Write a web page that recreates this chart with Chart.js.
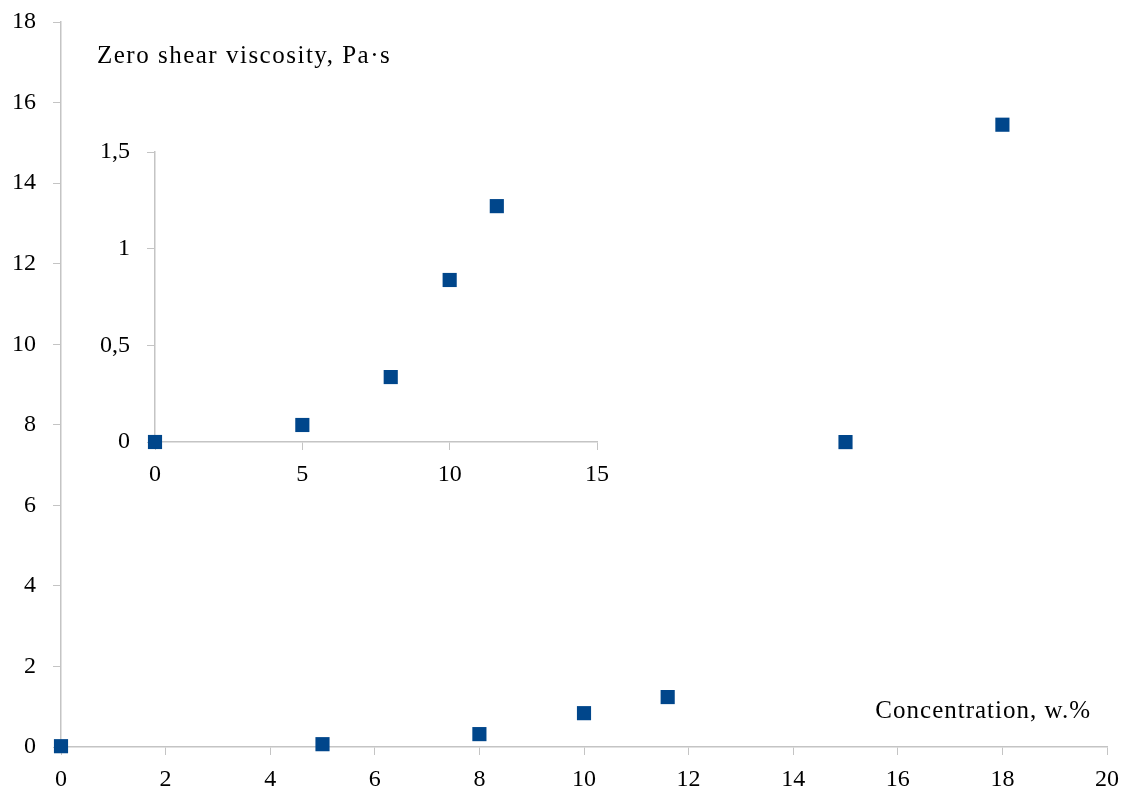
<!DOCTYPE html>
<html lang="en">
<head>
    <meta charset="UTF-8">
    <title>Zero shear viscosity vs concentration</title>
    <script src="https://cdn.jsdelivr.net/npm/chart.js"></script>
    <style>
        body { margin: 0; background: #fff; }
        #wrap { position: relative; width: 1126px; height: 794px; }
        #mainChart { position: absolute; left: 0; top: 0; }
        #insetChart { position: absolute; left: 80px; top: 130px; }
    </style>
</head>
<body>
    <div id="wrap">
        <canvas id="mainChart" width="1126" height="794"></canvas>
        <canvas id="insetChart" width="540" height="360"></canvas>
    </div>

    <script>
        // main plot data
        const concentration = [0, 5, 8, 10, 11.6, 15, 18];
        const viscosity = [0.02, 0.07, 0.32, 0.84, 1.24, 7.57, 15.45];

        // inset (zoom of the low range)
        const insetConcentration = [0, 5, 8, 10, 11.6];
        const insetViscosity = [0, 0.088, 0.336, 0.838, 1.22];

        const mainXTicks = [0, 2, 4, 6, 8, 10, 12, 14, 16, 18, 20];
        const mainYTicks = [0, 2, 4, 6, 8, 10, 12, 14, 16, 18];
        const insetXTicks = [0, 5, 10, 15];
        const insetYTicks = [0, 0.5, 1, 1.5];

        const yLabel = "Zero shear viscosity, Pa·s";
        const xLabel = "Concentration, w.%";

        const axisColor = "#c4c4c4";
        const markColor = "#00468b";
        const fontFamily = "'Liberation Serif', 'Times New Roman', serif";

        Chart.defaults.font.family = fontFamily;
        Chart.defaults.font.size = 24;
        Chart.defaults.color = "#000";
        Chart.defaults.animation = false;
        Chart.defaults.responsive = false;

        const toPoints = (xs, ys) => xs.map((x, i) => ({ x: x, y: ys[i] }));
        const commaFmt = v => String(v).replace(".", ",");

        const makeScale = (min, max, ticks, isY, fmt, size) => ({
            type: "linear",
            min: min,
            max: max,
            afterBuildTicks: scale => { scale.ticks = ticks.map(v => ({ value: v })); },
            afterFit: scale => {
                if (isY) scale.width = size; else scale.height = size;
                // let the layout padding alone decide where the plot area sits
                scale.paddingTop = 0;
                scale.paddingBottom = 0;
                scale.paddingLeft = 0;
                scale.paddingRight = 0;
            },
            grid: { display: true, drawOnChartArea: false, drawTicks: true, tickLength: 8, color: axisColor },
            border: { display: true, color: axisColor, width: 1.5 },
            ticks: {
                padding: isY ? 17 : 10,
                callback: fmt,
                autoSkip: false,
                maxRotation: 0
            }
        });

        // axis captions, drawn inside the main plot
        const captions = {
            id: "captions",
            afterDraw(chart) {
                const ctx = chart.ctx;
                const area = chart.chartArea;
                ctx.save();
                ctx.font = "25px " + fontFamily;
                ctx.fillStyle = "#000";
                ctx.textBaseline = "middle";
                ctx.textAlign = "left";
                ctx.letterSpacing = "1.5px";
                ctx.fillText(yLabel, area.left + 36, area.top + 34);
                ctx.textAlign = "right";
                ctx.letterSpacing = "1px";
                ctx.fillText(xLabel, area.right - 16, area.bottom - 36);
                ctx.restore();
            }
        };

        const dataset = (xs, ys) => ({
            data: toPoints(xs, ys),
            pointStyle: "rect",
            pointRadius: 10,
            backgroundColor: markColor,
            borderColor: markColor,
            borderWidth: 0,
            clip: false
        });

        new Chart(document.getElementById("mainChart"), {
            type: "scatter",
            data: { datasets: [dataset(concentration, viscosity)] },
            options: {
                layout: { padding: { left: 0, right: 19, top: 22, bottom: 0 } },
                plugins: { legend: { display: false }, tooltip: { enabled: false } },
                scales: {
                    x: makeScale(0, 20, mainXTicks, false, v => v, 47),
                    y: makeScale(0, 18, mainYTicks, true, v => v, 61)
                }
            },
            plugins: [captions]
        });

        new Chart(document.getElementById("insetChart"), {
            type: "scatter",
            data: { datasets: [dataset(insetConcentration, insetViscosity)] },
            options: {
                layout: { padding: { left: 0, right: 23, top: 22, bottom: 0 } },
                plugins: { legend: { display: false }, tooltip: { enabled: false } },
                scales: {
                    x: makeScale(0, 15, insetXTicks, false, v => v, 48),
                    y: makeScale(0, 1.5, insetYTicks, true, commaFmt, 75)
                }
            }
        });
    </script>
</body>
</html>
